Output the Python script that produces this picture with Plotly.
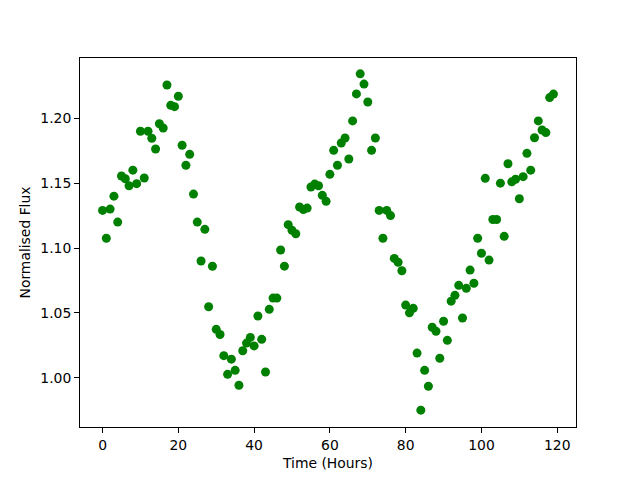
import plotly.graph_objects as go

hours = list(range(120))
flux = [
    1.129, 1.1075, 1.130, 1.140, 1.120, 1.1555, 1.1534, 1.148, 1.160, 1.1496,
    1.190, 1.154, 1.190, 1.1846, 1.1763, 1.1958, 1.1925, 1.2257, 1.210, 1.209,
    1.217, 1.1792, 1.1638, 1.1722, 1.1416, 1.120, 1.090, 1.1144, 1.0547, 1.0859,
    1.0373, 1.0333, 1.017, 1.0026, 1.0143, 1.0057, 0.9942, 1.0208, 1.0267, 1.0311,
    1.0245, 1.0476, 1.0296, 1.0044, 1.0527, 1.0614, 1.0614, 1.0985, 1.086, 1.118,
    1.1136, 1.111, 1.1316, 1.1296, 1.1308, 1.147, 1.1493, 1.148, 1.1406, 1.136,
    1.1568, 1.1753, 1.1638, 1.181, 1.1848, 1.1686, 1.198, 1.2188, 1.2343, 1.2264,
    1.2126, 1.1753, 1.1848, 1.129, 1.1075, 1.129, 1.125, 1.092, 1.089, 1.0825,
    1.056, 1.050, 1.0535, 1.019, 0.975, 1.0057, 0.9934, 1.0389, 1.0358, 1.015,
    1.0435, 1.0288, 1.059, 1.0635, 1.0712, 1.046, 1.0689, 1.083, 1.0728, 1.1075,
    1.096, 1.1537, 1.0907, 1.122, 1.122, 1.150, 1.109, 1.165, 1.151, 1.153,
    1.138, 1.155, 1.173, 1.160, 1.185, 1.198, 1.191, 1.189, 1.216, 1.2187,
]

font = dict(family="DejaVu Sans", size=13.9, color="black")

fig = go.Figure()
fig.add_trace(go.Scatter(
    x=hours, y=flux, mode="markers",
    marker=dict(color="#008000", size=9, line=dict(width=0)),
))

axis_common = dict(
    showline=True, linecolor="black", linewidth=1.1, mirror=True,
    ticks="outside", ticklen=4.9, tickwidth=1.1, tickcolor="black",
    showgrid=False, zeroline=False, tickfont=font,
)

fig.update_layout(
    width=640, height=480,
    margin=dict(l=72, r=72, t=50, b=61),
    paper_bgcolor="white", plot_bgcolor="white",
    showlegend=False,
    font=font,
    xaxis=dict(range=[-5.95, 124.95], tick0=0, dtick=20,
               title=dict(text="Time (Hours)", font=font, standoff=6), **axis_common),
    yaxis=dict(range=[0.962, 1.2465], tick0=1.0, dtick=0.05, tickformat=".2f",
               title=dict(text="Normalised Flux", font=font, standoff=6), **axis_common),
)

fig.write_html("out.html")
